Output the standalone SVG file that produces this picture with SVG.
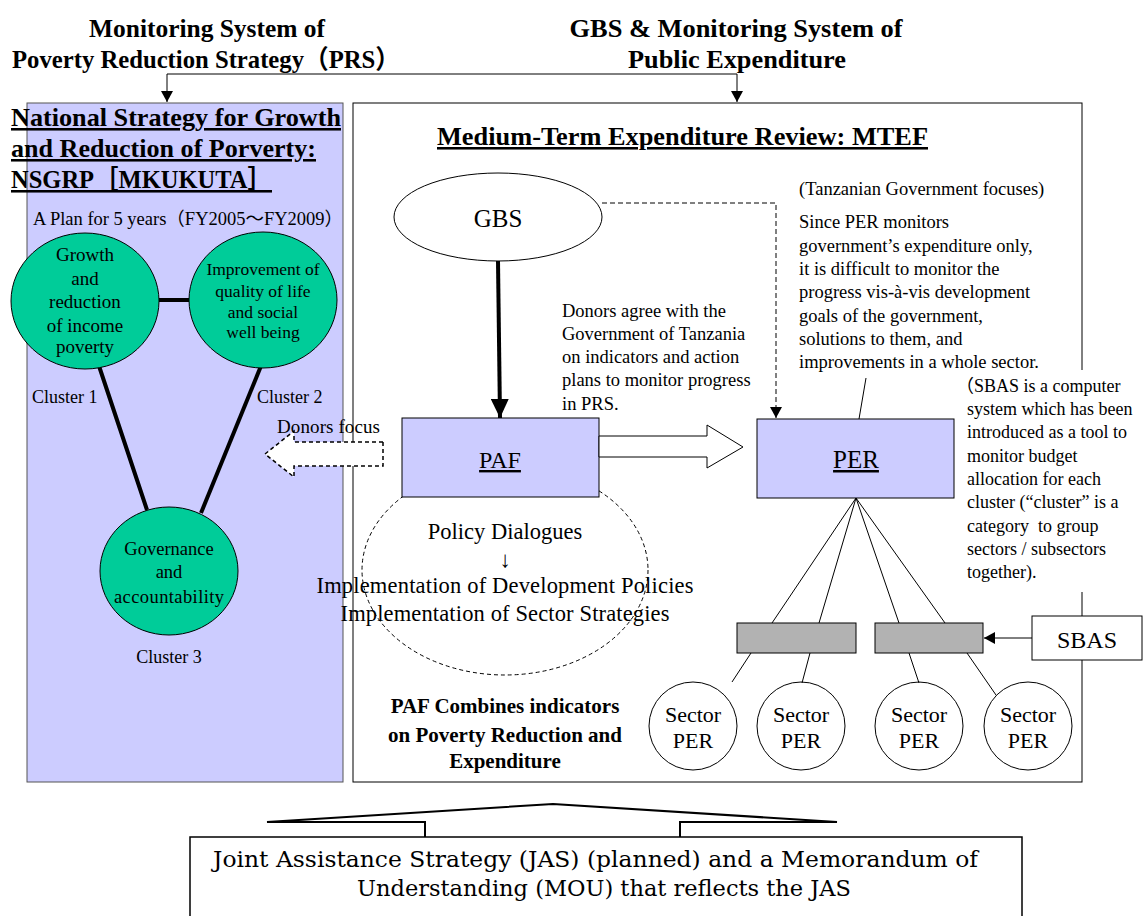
<svg xmlns="http://www.w3.org/2000/svg" width="1147" height="916" viewBox="0 0 1147 916">
<defs>
<marker id="arr" markerUnits="userSpaceOnUse" markerWidth="12" markerHeight="12" refX="11" refY="6" orient="auto"><path d="M0,0 L11,6 L0,12 z" fill="#000"/></marker>
<marker id="arrBig" markerUnits="userSpaceOnUse" markerWidth="20" markerHeight="18" refX="19" refY="9" orient="auto"><path d="M0,0 L19,9 L0,18 z" fill="#000"/></marker>
<style>
text{font-family:"Liberation Serif","Noto Sans CJK JP",serif;fill:#000}
.h{font-size:26px;font-weight:bold}
.t{font-size:25.5px;font-weight:bold}
.b{font-size:18.5px}
.c{font-size:19px;text-anchor:middle}
.m{text-anchor:middle}
.u{text-decoration:underline}
.cl{fill:#00cc99;stroke:#000;stroke-width:1}
.sec{fill:#fff;stroke:#000;stroke-width:1}
.bar{fill:#b2b2b2;stroke:#000;stroke-width:1}
.ln{stroke:#000;stroke-width:1;fill:none}
.thick{stroke:#000;stroke-width:4;fill:none}
.jas{font-family:"DejaVu Serif","Liberation Serif",serif;font-size:22px}
</style>
</defs>

<g id="headers">
<text class="h m" x="207" y="37" textLength="236" lengthAdjust="spacingAndGlyphs">Monitoring System of</text>
<text class="h m" x="206" y="68" textLength="388" lengthAdjust="spacingAndGlyphs">Poverty Reduction Strategy（PRS）</text>
<text class="h m" x="736" y="37" textLength="333" lengthAdjust="spacingAndGlyphs">GBS &amp; Monitoring System of</text>
<text class="h m" x="737" y="68" textLength="218" lengthAdjust="spacingAndGlyphs">Public Expenditure</text>
</g>

<g id="nsgrp-panel">
<rect x="27" y="103" width="316" height="679" fill="#ccccff" stroke="#555" stroke-width="1"/>
<text class="t u" x="11" y="126" textLength="330" lengthAdjust="spacingAndGlyphs">National Strategy for Growth</text>
<text class="t u" x="11" y="157" textLength="305" lengthAdjust="spacingAndGlyphs">and Reduction of Porverty:</text>
<text class="t u" x="11" y="188" textLength="261" lengthAdjust="spacingAndGlyphs">NSGRP［MKUKUTA］</text>
<text x="33" y="225" font-size="18.5" textLength="310">A Plan for 5 years（FY2005～FY2009）</text>
</g>

<g id="mtef-box">
<rect x="353" y="103" width="729" height="679" fill="#fff" stroke="#000" stroke-width="1"/>
<text class="t u" x="437" y="145" textLength="491" lengthAdjust="spacingAndGlyphs">Medium-Term Expenditure Review: MTEF</text>
</g>

<g id="cluster-links">
<line class="thick" x1="159" y1="300" x2="189" y2="300" stroke-width="3"/>
<line class="thick" x1="99" y1="366" x2="147" y2="510"/>
<line class="thick" x1="261" y1="366" x2="201" y2="513"/>
</g>

<g id="cluster1">
<ellipse class="cl" cx="85" cy="301" rx="74" ry="68"/>
<text class="c" x="85" y="261">Growth</text>
<text class="c" x="85" y="285">and</text>
<text class="c" x="85" y="308">reduction</text>
<text class="c" x="85" y="332">of income</text>
<text class="c" x="85" y="353">poverty</text>
<text x="32" y="403" font-size="18">Cluster 1</text>
</g>

<g id="cluster2">
<ellipse class="cl" cx="263" cy="300" rx="74" ry="68"/>
<text class="m" x="263" y="275" font-size="17.5">Improvement of</text>
<text class="m" x="263" y="297" font-size="17.5">quality of life</text>
<text class="m" x="263" y="318" font-size="17.5">and social</text>
<text class="m" x="263" y="338" font-size="17.5">well being</text>
<text x="257" y="403" font-size="18">Cluster 2</text>
</g>

<g id="cluster3">
<ellipse class="cl" cx="169" cy="571" rx="69" ry="64"/>
<text class="m" x="169" y="555" font-size="18.5">Governance</text>
<text class="m" x="169" y="578" font-size="18.5">and</text>
<text class="m" x="169" y="603" font-size="18.5" textLength="110">accountability</text>
<text class="m" x="169" y="663" font-size="18">Cluster 3</text>
</g>

<g id="donors-focus">
<polygon points="383,442 294,442 294,431 265,454 294,477 294,466 383,466" fill="#fff" stroke="#000" stroke-width="1.5" stroke-dasharray="4,3"/>
<text x="277" y="433" font-size="19" textLength="103">Donors focus</text>
</g>

<g id="policy-ellipse">
<ellipse cx="505" cy="570" rx="143" ry="105" fill="none" stroke="#000" stroke-width="1" stroke-dasharray="4,3"/>
<text class="m" x="505" y="539" font-size="22.5">Policy Dialogues</text>
<text class="m" x="505" y="567" font-size="22.5">↓</text>
<text class="m" x="505" y="593" font-size="22.5" textLength="377">Implementation of Development Policies</text>
<text class="m" x="505" y="621" font-size="22.5" textLength="329">Implementation of Sector Strategies</text>
</g>

<g id="gbs">
<ellipse cx="498" cy="217" rx="104" ry="44" fill="#fff" stroke="#000" stroke-width="1"/>
<text class="m" x="498" y="227" font-size="25">GBS</text>
</g>

<g id="paf">
<rect x="402" y="418" width="197" height="79" fill="#ccccff" stroke="#000" stroke-width="1"/>
<text class="m u" x="500" y="468" font-size="24">PAF</text>
</g>

<g id="paf-note">
<text class="m" x="505" y="713" font-size="21" font-weight="bold">PAF Combines indicators</text>
<text class="m" x="505" y="742" font-size="21" font-weight="bold">on Poverty Reduction and</text>
<text class="m" x="505" y="768" font-size="21" font-weight="bold">Expenditure</text>
</g>

<g id="donors-agree">
<text class="b" x="562" y="317">Donors agree with the</text>
<text class="b" x="562" y="340">Government of Tanzania</text>
<text class="b" x="562" y="363">on indicators and action</text>
<text class="b" x="562" y="386">plans to monitor progress</text>
<text class="b" x="562" y="410">in PRS.</text>
</g>

<g id="gov-note">
<text class="b" x="799" y="195">(Tanzanian Government focuses)</text>
<text class="b" x="799" y="228">Since PER monitors</text>
<text class="b" x="799" y="252">government’s expenditure only,</text>
<text class="b" x="799" y="275">it is difficult to monitor the</text>
<text class="b" x="799" y="298">progress vis-à-vis development</text>
<text class="b" x="799" y="322">goals of the government,</text>
<text class="b" x="799" y="345">solutions to them, and</text>
<text class="b" x="799" y="368">improvements in a whole sector.</text>
</g>

<g id="sbas-note">
<rect x="955" y="370" width="192" height="222" fill="#fff"/>
<text x="956" y="392" font-size="18">（SBAS is a computer</text>
<text x="967" y="415" font-size="18">system which has been</text>
<text x="967" y="438" font-size="18">introduced as a tool to</text>
<text x="967" y="462" font-size="18">monitor budget</text>
<text x="967" y="485" font-size="18">allocation for each</text>
<text x="967" y="508" font-size="18">cluster (“cluster” is a</text>
<text x="967" y="532" font-size="18" xml:space="preserve">category  to group</text>
<text x="967" y="555" font-size="18">sectors / subsectors</text>
<text x="967" y="578" font-size="18">together).</text>
</g>

<g id="per">
<rect x="757" y="419" width="197" height="79" fill="#ccccff" stroke="#000" stroke-width="1"/>
<text class="m u" x="856" y="468" font-size="25">PER</text>
</g>

<g id="bars">
<rect class="bar" x="737" y="623" width="119" height="30"/>
<rect class="bar" x="875" y="623" width="108" height="30"/>
</g>

<g id="sbas">
<rect x="1032" y="616" width="110" height="44" fill="#fff" stroke="#000" stroke-width="1"/>
<text class="m" x="1087" y="648" font-size="24">SBAS</text>
</g>

<g id="sector1"><circle class="sec" cx="693" cy="726" r="44"/><text class="m" x="693" y="722" font-size="22">Sector</text><text class="m" x="693" y="748" font-size="22">PER</text></g>
<g id="sector2"><circle class="sec" cx="801" cy="726" r="44"/><text class="m" x="801" y="722" font-size="22">Sector</text><text class="m" x="801" y="748" font-size="22">PER</text></g>
<g id="sector3"><circle class="sec" cx="919" cy="726" r="44"/><text class="m" x="919" y="722" font-size="22">Sector</text><text class="m" x="919" y="748" font-size="22">PER</text></g>
<g id="sector4"><circle class="sec" cx="1028" cy="726" r="44"/><text class="m" x="1028" y="722" font-size="22">Sector</text><text class="m" x="1028" y="748" font-size="22">PER</text></g>

<g id="jas">
<rect x="190" y="837" width="832" height="100" fill="#fff" stroke="#000" stroke-width="1.5"/>
<text class="jas" x="213" y="867" textLength="765" lengthAdjust="spacingAndGlyphs">Joint Assistance Strategy (JAS) (planned) and a Memorandum of</text>
<text class="jas" x="357" y="896" textLength="494" lengthAdjust="spacingAndGlyphs">Understanding (MOU) that reflects the JAS</text>
</g>

<g id="connectors">
<path class="ln" d="M167,74 H737" stroke-width="1.5"/>
<path class="ln" d="M167,74 V102" stroke-width="1.5" marker-end="url(#arr)"/>
<path class="ln" d="M737,74 V102" stroke-width="1.5" marker-end="url(#arr)"/>
<path class="thick" d="M498,261 L500,418" marker-end="url(#arrBig)"/>
<path class="ln" d="M602,203 H776 V418" stroke-dasharray="5,3" marker-end="url(#arr)"/>
<polygon points="599,436 707,436 707,425 743,447 707,468 707,457 599,457" fill="#fff" stroke="#000" stroke-width="1"/>
<line class="ln" x1="859" y1="419" x2="866" y2="378"/>
<line class="ln" x1="856" y1="498" x2="772" y2="623"/>
<line class="ln" x1="856" y1="498" x2="819" y2="623"/>
<line class="ln" x1="856" y1="498" x2="899" y2="623"/>
<line class="ln" x1="856" y1="498" x2="945" y2="623"/>
<line class="ln" x1="751" y1="653" x2="732" y2="682"/>
<line class="ln" x1="810" y1="653" x2="802" y2="683"/>
<line class="ln" x1="909" y1="653" x2="919" y2="683"/>
<line class="ln" x1="967" y1="653" x2="996" y2="695"/>
<line class="ln" x1="1032" y1="638" x2="984" y2="638" stroke-width="1.2" marker-end="url(#arr)"/>
<path d="M425,837 V822 H267 L553,804 L837,822 H680 V837" fill="none" stroke="#000" stroke-width="2"/>
</g>
</svg>
